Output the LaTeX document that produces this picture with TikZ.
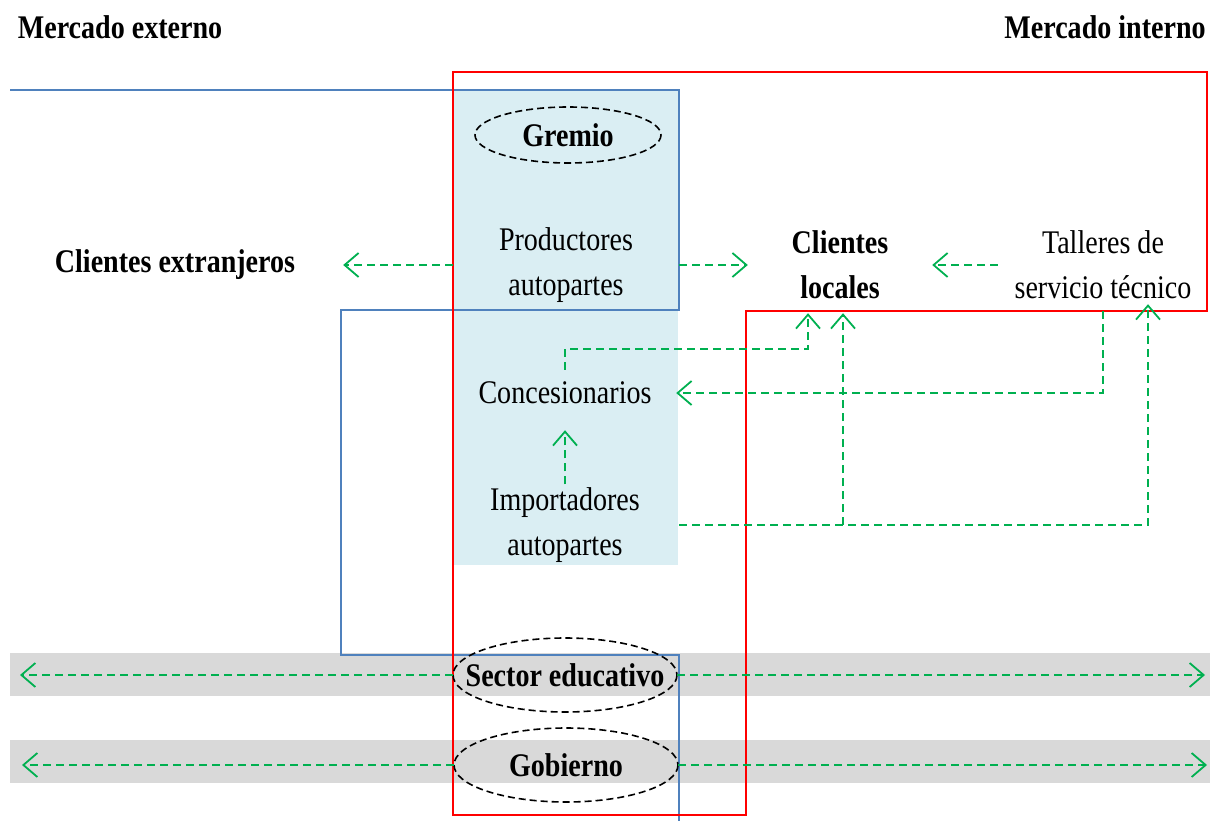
\documentclass[tikz,border=0pt]{standalone}
\usepackage{fontspec}
\setmainfont[FakeStretch=0.85]{Liberation Serif}
\usetikzlibrary{arrows.meta}

\definecolor{aquafill}{HTML}{DAEEF3}
\definecolor{bandgray}{HTML}{D9D9D9}
\definecolor{frameblue}{HTML}{4F81BD}
\definecolor{flowgreen}{HTML}{00B050}

\tikzset{
  txt/.style={inner sep=3pt, align=center, font=\fontsize{33}{45}\selectfont},
  btxt/.style={txt, font=\fontsize{33}{45}\selectfont\bfseries},
  flow/.style={draw=flowgreen, line width=1.8, dash pattern=on 8pt off 5pt,
    -{Straight Barb[length=14pt,width=24pt,line width=1.8]}},
  ring/.style={draw=black, line width=1.6, dash pattern=on 7pt off 4pt},
}

\begin{document}
\begin{tikzpicture}[x=1pt,y=1pt,yscale=-1,xscale=1]
\useasboundingbox (0,0) rectangle (1217,821);

%Fills
\fill [bandgray] (10,653) rectangle (1210,696);
\fill [bandgray] (10,740) rectangle (1210,783);
\fill [aquafill] (454,90) rectangle (678,565);

%Frames
\draw [frameblue, line width=2] (10,90) -- (679,90) -- (679,310) -- (341,310) -- (341,655) -- (679,655) -- (679,821);
\draw [red, line width=2] (453,72) -- (1207,72) -- (1207,311) -- (746,311) -- (746,815) -- (453,815) -- cycle;

% Text Node
\node [btxt] (mext) at (120,27) {Mercado externo};
% Text Node
\node [btxt] (mint) at (1105,27) {Mercado interno};
% Text Node
\node [btxt] (gremio) at (568,135) {Gremio};
\draw [ring] (gremio.center) ellipse [x radius=93, y radius=28];
% Text Node
\node [txt, minimum width=226] (prod) at (566,265) {Productores\\autopartes};
% Text Node
\node [btxt, minimum width=336] (cext) at (175,265) {Clientes extranjeros};
% Text Node
\node [btxt, minimum width=184, minimum height=96] (cloc) at (840,265) {Clientes\\locales};
% Text Node
\node [txt, minimum width=210, minimum height=92] (taller) at (1103,265) {Talleres de\\servicio técnico};
% Text Node
\node [txt, minimum width=222, minimum height=46] (conc) at (565,393) {Concesionarios};
% Text Node
\node [txt, minimum width=228] (impo) at (565,525) {Importadores\\autopartes};
% Text Node
\node [btxt, minimum width=224] (sedu) at (565,675) {Sector educativo};
\draw [ring] (sedu.center) ellipse [x radius=112, y radius=37];
% Text Node
\node [btxt, minimum width=224] (gob) at (566,765) {Gobierno};
\draw [ring] (gob.center) ellipse [x radius=112, y radius=37];

\coordinate (junc) at (843,525);
\coordinate (eduL) at (20,675);
\coordinate (eduR) at (1205,675);
\coordinate (gobL) at (22,765);
\coordinate (gobR) at (1207,765);

%Flows
\draw [flow] (prod.west) -- (cext.east);
\draw [flow] (prod.east) -- (cloc.west);
\draw [flow] (taller.west) -- (cloc.east);
\draw [flow] (conc.north) -- ++(0,-21) -| ([xshift=-32pt]cloc.south);
\draw [flow] (taller.south) |- (conc.east);
\draw [flow] (impo.east) -| ([xshift=45pt,yshift=-7pt]taller.south);
\draw [flow] (junc) -- (junc |- cloc.south);
\draw [flow, shorten >=14pt] (impo.north) -- (conc.south);
\draw [flow] (sedu.west) -- (eduL);
\draw [flow] (sedu.east) -- (eduR);
\draw [flow] (gob.west) -- (gobL);
\draw [flow] (gob.east) -- (gobR);

\end{tikzpicture}
\end{document}
